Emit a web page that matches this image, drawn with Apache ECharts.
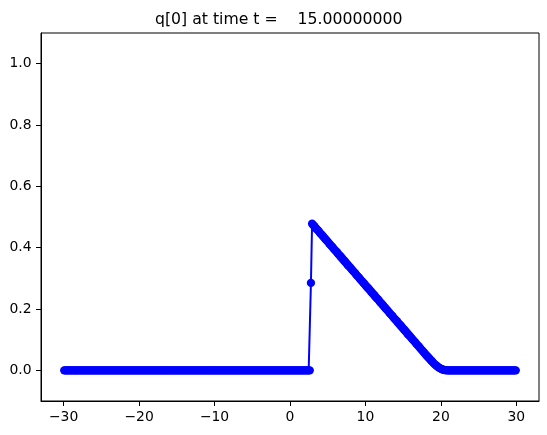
<!DOCTYPE html>
<html>
<head>
<meta charset="utf-8">
<script src="https://cdn.jsdelivr.net/npm/echarts@6/dist/echarts.min.js"></script>
<style>html,body{margin:0;padding:0;background:#fff;}#c{width:547px;height:435px;}</style>
</head>
<body>
<div id="c"></div>
<script>
// Grid of cell centres (400 cells on [-30, 30])
var gridStart = -29.925;
var gridStep = 0.15;

// q[0] values
var leftFlat = [
0,0,0,0,0,0,0,0,0,0,0,0,0,0,0,0,0,0,0,0,
0,0,0,0,0,0,0,0,0,0,0,0,0,0,0,0,0,0,0,0,
0,0,0,0,0,0,0,0,0,0,0,0,0,0,0,0,0,0,0,0,
0,0,0,0,0,0,0,0,0,0,0,0,0,0,0,0,0,0,0,0,
0,0,0,0,0,0,0,0,0,0,0,0,0,0,0,0,0,0,0,0,
0,0,0,0,0,0,0,0,0,0,0,0,0,0,0,0,0,0,0,0,
0,0,0,0,0,0,0,0,0,0,0,0,0,0,0,0,0,0,0,0,
0,0,0,0,0,0,0,0,0,0,0,0,0,0,0,0,0,0,0,0,
0,0,0,0,0,0,0,0,0,0,0,0,0,0,0,0,0,0,0,0,
0,0,0,0,0,0,0,0,0,0,0,0,0,0,0,0,0,0,0,0,
0,0,0,0,0,0,0,0,0,0,0,0,0,0,0,0,0,0
];
var shock = [0.285];
var ramp = [
0.478,0.474,0.470,0.465,0.461,0.457,0.453,0.448,0.444,0.440,
0.436,0.431,0.427,0.423,0.419,0.414,0.410,0.406,0.402,0.397,
0.393,0.389,0.385,0.380,0.376,0.372,0.368,0.363,0.359,0.355,
0.351,0.346,0.342,0.338,0.334,0.329,0.325,0.321,0.317,0.312,
0.308,0.304,0.300,0.295,0.291,0.287,0.283,0.278,0.274,0.270,
0.266,0.262,0.257,0.253,0.249,0.245,0.240,0.236,0.232,0.228,
0.223,0.219,0.215,0.211,0.206,0.202,0.198,0.194,0.189,0.185,
0.181,0.177,0.172,0.168,0.164,0.160,0.155,0.151,0.147,0.143,
0.138,0.134,0.130,0.126,0.121,0.117,0.113,0.109,0.104,0.100,
0.096,0.092,0.087,0.083,0.079,0.075,0.070,0.066,0.062,0.058,
0.053,0.049,0.045,0.041,0.037,0.033,
0.029,0.025,0.021,0.018,0.015,0.012,0.009,0.007,0.005,0.003,0.002,0.001,0.0005
];
var rightFlat = [
0,0,0,0,0,0,0,0,0,0,0,0,0,0,0,0,0,0,0,0,
0,0,0,0,0,0,0,0,0,0,0,0,0,0,0,0,0,0,0,0,
0,0,0,0,0,0,0,0,0,0,0,0,0,0,0,0,0,0,0,0,
0,0
];
var xTicks = [-30, -20, -10, 0, 10, 20, 30];
var yTicks = [0, 0.2, 0.4, 0.6, 0.8, 1.0];
var titleText = 'q[0] at time t =    15.00000000';

var ys = leftFlat.concat(shock, ramp, rightFlat);
var data = ys.map(function (v, i) { return [gridStart + gridStep * i, v]; });

var font = 'DejaVu Sans';
var chart = echarts.init(document.getElementById('c'), null, {renderer: 'canvas'});
chart.setOption({
  animation: false,
  backgroundColor: '#ffffff',
  title: {
    text: titleText,
    left: 150, top: 7,
    textStyle: {fontFamily: font, fontSize: 15.7, fontWeight: 'normal', color: '#000'}
  },
  grid: {left: 41, right: 8, top: 33, bottom: 34, show: true, borderColor: '#000', borderWidth: 1, backgroundColor: 'transparent'},
  xAxis: {
    type: 'value', min: -33, max: 33,
    splitLine: {show: false},
    axisLine: {show: true, onZero: false, lineStyle: {color: '#000', width: 1}},
    axisTick: {show: true, length: 5, customValues: xTicks, lineStyle: {color: '#000', width: 1}},
    axisLabel: {
      customValues: xTicks, margin: 9, color: '#000', fontFamily: font, fontSize: 13.9,
      formatter: function (v) { return v < 0 ? '\u2212' + Math.abs(v) : String(v); }
    }
  },
  yAxis: {
    type: 'value', min: -0.1, max: 1.1,
    splitLine: {show: false},
    axisLine: {show: true, onZero: false, lineStyle: {color: '#000', width: 1}},
    axisTick: {show: true, length: 5, customValues: yTicks, lineStyle: {color: '#000', width: 1}},
    axisLabel: {
      customValues: yTicks, margin: 9.5, color: '#000', fontFamily: font, fontSize: 13.9,
      formatter: function (v) { return v.toFixed(1); }
    }
  },
  series: [{
    type: 'line',
    data: data,
    symbol: 'circle',
    symbolSize: 8.3,
    showAllSymbol: true,
    lineStyle: {color: '#0000ff', width: 2},
    itemStyle: {color: '#0000ff', borderWidth: 0},
    z: 3
  }]
});
</script>
</body>
</html>
